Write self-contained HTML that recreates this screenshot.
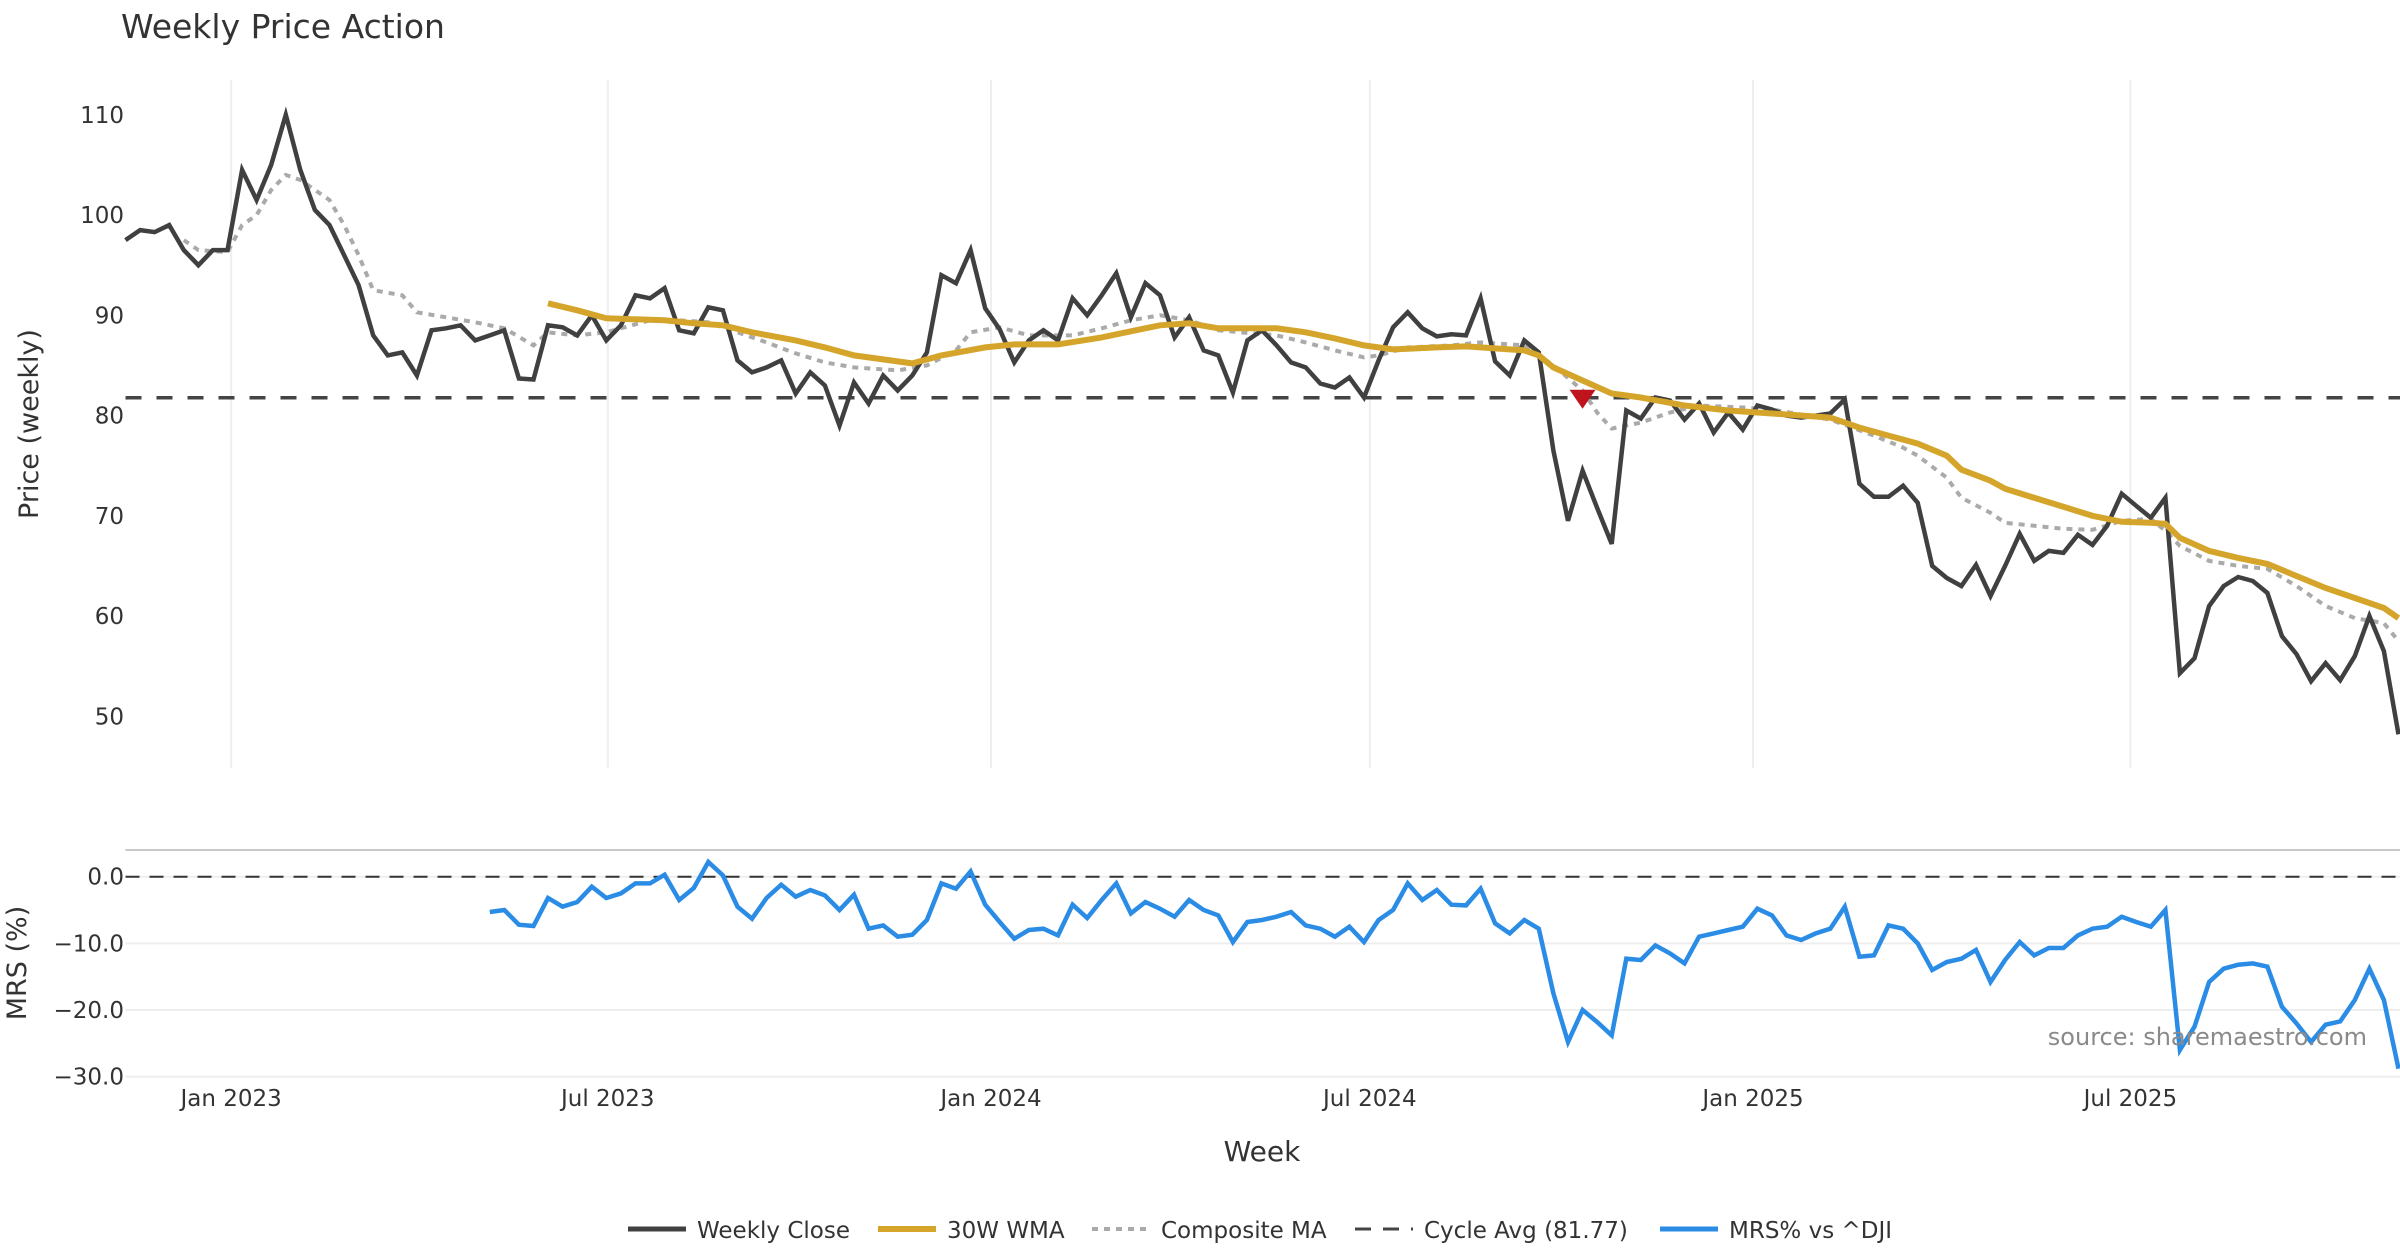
<!DOCTYPE html>
<html><head><meta charset="utf-8"><style>
html,body{margin:0;padding:0;background:#fff;}
svg{display:block;font-family:"DejaVu Sans","Liberation Sans",sans-serif;}
</style></head><body>
<svg id="chart" width="2400" height="1260" viewBox="0 0 2400 1260">
<text x="121" y="38" font-size="33" fill="#333">Weekly Price Action</text>
<g id="grid"></g>
<g id="price"></g>
<g id="mrs"></g>
<g id="axes"></g>
<text x="0" y="0" transform="translate(38,424) rotate(-90)" text-anchor="middle" font-size="27" fill="#333">Price (weekly)</text>
<text x="0" y="0" transform="translate(26,963) rotate(-90)" text-anchor="middle" font-size="27" fill="#333">MRS (%)</text>
<text x="1262" y="1161" text-anchor="middle" font-size="28" fill="#333">Week</text>
<text x="2367" y="1045" text-anchor="end" font-size="24" fill="#8a8a8a">source: sharemaestro.com</text>
<g id="legend"></g>
</svg>
<script>
const closeValues = [97.5,98.5,98.3,99,96.5,95,96.5,96.5,104.5,101.5,105,110,104.5,100.5,99,96,93,88,86,86.3,84,88.5,88.7,89,87.5,88,88.5,83.7,83.6,89,88.8,88,90,87.5,89,92,91.7,92.7,88.5,88.2,90.8,90.5,85.5,84.3,84.8,85.5,82.2,84.3,83,79,83.3,81.2,84,82.5,84,86.3,94,93.2,96.5,90.7,88.6,85.3,87.5,88.5,87.5,91.7,90,92,94.2,89.8,93.2,92,87.8,89.8,86.5,86,82.3,87.5,88.5,87,85.3,84.8,83.2,82.8,83.8,81.8,85.5,88.8,90.3,88.7,87.9,88.1,88,91.7,85.4,84,87.5,86.3,76.5,69.5,74.5,70.8,67.2,80.5,79.7,81.8,81.5,79.6,81.2,78.3,80.3,78.6,81,80.6,80,79.8,80,80.2,81.6,73.2,71.9,71.9,73,71.3,65,63.8,63,65.1,62,65,68.2,65.5,66.5,66.3,68.1,67.1,69,72.2,71,69.8,71.8,54.3,55.8,61,63,63.9,63.5,62.3,58,56.2,53.5,55.3,53.6,56,60,56.5,48.2];
const wmaWeeks = [29,31,33,37,39,41,43,46,48,50,54,56,59,61,64,67,69,71,73,75,79,81,83,85,87,90,92,94,96,97,98,100,102,104,107,110,113,117,119,121,123,125,126,128,129,131,133,135,137,139,140,141,143,145,147,149,151,153,154,155,156];
const wmaValues = [91.2,90.5,89.7,89.5,89.2,89,88.3,87.5,86.8,86,85.2,86,86.8,87.1,87.1,87.8,88.4,89,89.2,88.7,88.7,88.3,87.7,87,86.6,86.8,86.9,86.7,86.5,86,84.8,83.5,82.2,81.8,81,80.5,80.2,79.8,78.8,78,77.2,76,74.6,73.5,72.7,71.8,70.9,70,69.4,69.3,69.2,67.8,66.5,65.8,65.2,64,62.8,61.8,61.3,60.8,59.8];
const compWeeks = [4,5,7,8,9,10,11,12,14,15,16,17,19,20,22,24,26,28,29,31,33,36,38,40,42,44,46,48,50,53,55,57,58,60,62,65,67,69,71,73,75,79,81,83,85,86,88,91,93,96,98,100,101,102,104,106,108,111,113,117,120,122,123,125,126,128,129,131,133,135,137,139,140,141,143,145,147,149,151,153,155,156];
const compValues = [97.5,96.5,96.3,99,100,102.5,104,103.5,101.5,99,96,92.5,92,90.3,89.8,89.3,88.7,87,88.3,88,88.3,89.5,89.5,89.3,88.3,87.3,86.2,85.3,84.8,84.5,85,86.5,88.3,88.8,88,88,88.7,89.5,90,89.5,88.5,88,87.3,86.5,85.8,86,86.8,87,87.3,87,85,82.5,80.3,78.7,79.3,80.3,81,80.8,80.6,79.6,78,76.8,76,73.8,71.8,70.3,69.3,69,68.7,68.6,69.5,69.7,68.5,67,65.5,65,64.7,63,61,59.8,59.3,57.5];
const mrsValues = [-5.3,-5,-7.2,-7.4,-3.2,-4.5,-3.8,-1.5,-3.2,-2.5,-1,-1,0.3,-3.5,-1.7,2.2,0.2,-4.5,-6.3,-3.2,-1.2,-3,-2,-2.8,-5,-2.7,-7.8,-7.3,-9,-8.7,-6.5,-1,-1.8,0.8,-4.2,-6.8,-9.3,-8,-7.8,-8.8,-4.2,-6.2,-3.5,-1,-5.5,-3.8,-4.8,-6,-3.5,-5,-5.8,-9.8,-6.8,-6.5,-6,-5.3,-7.3,-7.8,-9,-7.5,-9.8,-6.5,-5,-1,-3.5,-2,-4.2,-4.3,-1.8,-7,-8.5,-6.5,-7.8,-17.5,-24.8,-20,-21.8,-23.8,-12.3,-12.5,-10.3,-11.5,-13,-9,-8.5,-8,-7.5,-4.8,-5.8,-8.8,-9.5,-8.5,-7.8,-4.5,-12,-11.8,-7.3,-7.8,-10,-14,-12.8,-12.3,-11,-15.8,-12.5,-9.8,-11.8,-10.7,-10.7,-8.8,-7.8,-7.5,-6,-6.8,-7.5,-5,-26,-22.5,-15.8,-13.8,-13.2,-13,-13.5,-19.5,-22,-24.8,-22.2,-21.7,-18.5,-13.8,-18.5,-28.8];
const cycleAvg = 81.77;
const signalWeek = 100;
const signalPrice = 81.77;
const priceTicks = [50,60,70,80,90,100,110];
const mrsTicks = [0,-10,-20,-30];
const mrsTickLabels = ["0.0","\u221210.0","\u221220.0","\u221230.0"];
const monthTicks = [7.25,33.1,59.4,85.4,111.7,137.6];
const monthLabels = ["Jan 2023","Jul 2023","Jan 2024","Jul 2024","Jan 2025","Jul 2025"];

const NS="http://www.w3.org/2000/svg";
const X0=125.5, X1=2398.5, NW=closeValues.length;
const xs = i => X0 + i*(X1-X0)/(NW-1);
const yp = v => 114.8 + (110-v)*10.025;
const ym = v => 876.7 - v*6.667;
function mk(tag, parent, attrs){const e=document.createElementNS(NS,tag);for(const k in attrs)e.setAttribute(k,attrs[k]);document.getElementById(parent).appendChild(e);return e;}

monthTicks.forEach((w,i)=>{
  const l=mk('line','grid',{x1:xs(w),x2:xs(w),y1:80,y2:768,stroke:'#eeeeee','stroke-width':2});
  
  
  const t=mk('text','axes',{x:xs(w),y:1106,'text-anchor':'middle','font-size':23,fill:'#333'});
  t.textContent=monthLabels[i];
  
  
});
priceTicks.forEach(v=>{
  const t=mk('text','axes',{x:124,y:yp(v)+8,'text-anchor':'end','font-size':23,fill:'#333'});
  t.textContent=v;
  
  
});
const panelBorder=mk('line','grid',{x1:X0,x2:2400,y1:850,y2:850,stroke:'#c8c8c8','stroke-width':2});


mrsTicks.forEach((v,i)=>{
  const g=mk('line','grid',{x1:X0,x2:2400,y1:ym(v),y2:ym(v),stroke:'#eeeeee','stroke-width':2});
  
  
  const t=mk('text','axes',{x:124,y:ym(v)+8,'text-anchor':'end','font-size':23,fill:'#333'});
  t.textContent=mrsTickLabels[i];
  
  
});
const zl=mk('line','mrs',{x1:X0,x2:2400,y1:ym(0),y2:ym(0),stroke:'#333','stroke-width':2,'stroke-dasharray':'14,10'});



const cy=mk('line','price',{x1:X0,x2:2400,y1:yp(cycleAvg),y2:yp(cycleAvg),stroke:'#444','stroke-width':3.5,'stroke-dasharray':'16,15'});



function pts(weeks, vals, yf){return vals.map((v,i)=>xs(weeks?weeks[i]:i).toFixed(1)+','+yf(v).toFixed(1)).join(' ');}
const comp=mk('polyline','price',{points:pts(compWeeks,compValues,yp),fill:'none',stroke:'#aaaaaa','stroke-width':4,'stroke-dasharray':'6,6'});


const cl=mk('polyline','price',{points:pts(null,closeValues,yp),fill:'none',stroke:'#404040','stroke-width':4.5});


const wm=mk('polyline','price',{points:pts(wmaWeeks,wmaValues,yp),fill:'none',stroke:'#d4a52a','stroke-width':6});


const sx=xs(signalWeek), sy=yp(signalPrice);
const tri=mk('polygon','price',{points:`${sx-13},${sy-8} ${sx+13},${sy-8} ${sx},${sy+11}`,fill:'#c0141c'});



const off=NW-mrsValues.length;
const mw=mrsValues.map((v,i)=>off+i);
const ml=mk('polyline','mrs',{points:pts(mw,mrsValues,ym),fill:'none',stroke:'#2b8ce6','stroke-width':4.5});



const legendNames=["Weekly Close","30W WMA","Composite MA","Cycle Avg (81.77)","MRS% vs ^DJI"];
const legendX=[628,878,1092,1355,1660];
const legendStyles=[{stroke:'#404040',w:5,d:''},{stroke:'#d4a52a',w:6,d:''},{stroke:'#aaaaaa',w:4,d:'6,6'},{stroke:'#444',w:3,d:'16,12'},{stroke:'#2b8ce6',w:5,d:''}];
legendNames.forEach((n,i)=>{
  const s=legendStyles[i];
  const l=mk('line','legend',{x1:legendX[i],x2:legendX[i]+58,y1:1229,y2:1229,stroke:s.stroke,'stroke-width':s.w,'stroke-dasharray':s.d});
  
  
  const t=mk('text','legend',{x:legendX[i]+69,y:1238,'font-size':23,fill:'#333'});
  t.textContent=n;
  
  
});
</script>
</body></html>
